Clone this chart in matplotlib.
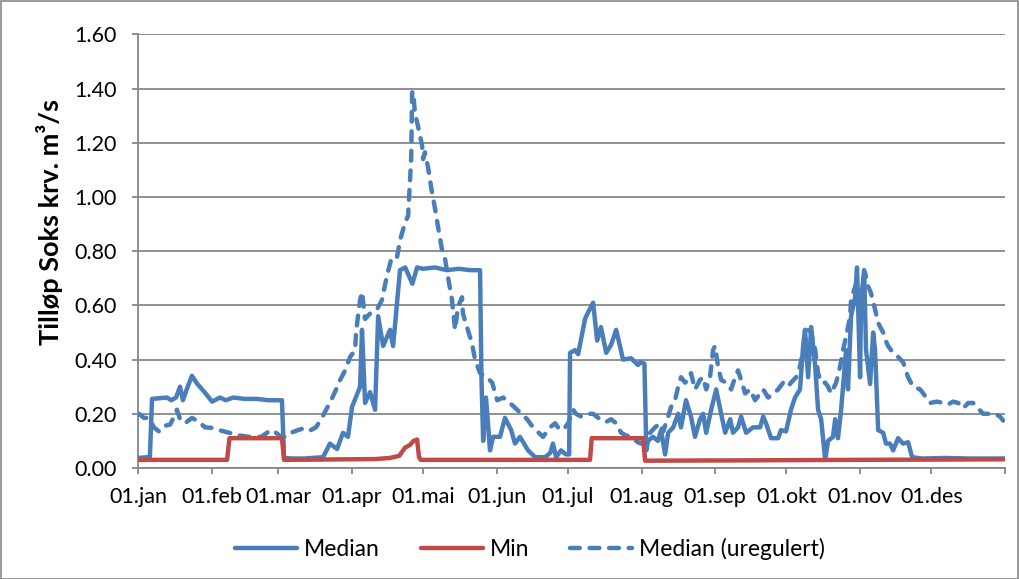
import matplotlib
matplotlib.use("Agg")
import matplotlib.pyplot as plt
from matplotlib.patches import Rectangle

# ---------------- data ----------------
month_ticks = [0, 31, 59, 90, 120, 151, 181, 212, 243, 273, 304, 334, 365]
month_labels = ["01.jan", "01.feb", "01.mar", "01.apr", "01.mai", "01.jun",
                "01.jul", "01.aug", "01.sep", "01.okt", "01.nov", "01.des", ""]
y_ticks = [0.0, 0.2, 0.4, 0.6, 0.8, 1.0, 1.2, 1.4, 1.6]

median_days = [0, 4.2, 5.0, 5.9, 12.2, 14, 16, 17.7, 18.9, 20.5, 22.7, 25, 28, 31.2, 34.5, 37, 40, 45, 50, 55,
               60.6, 61.5, 65, 70, 77.9, 80.8, 83.8, 86.3, 88.4, 90.1, 93.5, 94.3, 95.6, 97.7, 99.8, 101.1,
               103.2, 106.1, 107.4, 110.3, 112.5, 115.5, 117.5, 120, 125, 130, 135, 140, 144, 144.6, 145.3,
               146.5, 148.2, 149.5, 152.4, 154.5, 157.1, 158.7, 160.8, 164.2, 167.2, 171.4, 173.5, 174.7, 176,
               178.1, 180.2, 181.5, 181.9, 184, 185.3, 188.2, 189.5, 191.6, 193.3, 194.9, 197.1, 199.2, 201.3,
               204.2, 207.6, 210.5, 211.4, 213.2, 214.0, 214.7, 216.8, 218.9, 220.2, 221.9, 223.2, 225.3, 227.4,
               228.6, 230.7, 232.8, 234.5, 236.6, 237.9, 239.2, 241.3, 243.4, 245.5, 247.2, 249.3, 250.5, 252.6,
               253.9, 256, 258.9, 261.9, 263.2, 264.4, 266.5, 269.5, 270.7, 272.8, 274.9, 276.6, 278.7, 280,
               280.8, 282.1, 283.4, 285.1, 286.3, 287.6, 289.3, 290.5, 292.6, 293.5, 294.7, 296, 298.1, 298.9,
               300.2, 301.9, 302.7, 304, 304.4, 305.7, 306.5, 308.2, 309.5, 310.3, 311.6, 313.7, 314.9, 316.6,
               317.9, 320, 322.1, 324.2, 325.9, 330, 340, 350, 360, 365]
median_vals = [0.037, 0.04, 0.04, 0.255, 0.26, 0.25, 0.26, 0.30, 0.25, 0.29, 0.34, 0.31, 0.28, 0.245, 0.26, 0.25,
               0.26, 0.255, 0.255, 0.25, 0.25, 0.037, 0.035, 0.035, 0.04, 0.09, 0.07, 0.13, 0.115, 0.225, 0.30,
               0.51, 0.24, 0.28, 0.215, 0.56, 0.45, 0.51, 0.45, 0.73, 0.74, 0.68, 0.74, 0.735, 0.74, 0.73, 0.735,
               0.73, 0.73, 0.33, 0.10, 0.26, 0.065, 0.115, 0.115, 0.185, 0.14, 0.09, 0.115, 0.065, 0.04, 0.04,
               0.055, 0.09, 0.04, 0.065, 0.05, 0.05, 0.425, 0.435, 0.42, 0.55, 0.575, 0.61, 0.47, 0.52, 0.425,
               0.455, 0.51, 0.40, 0.405, 0.38, 0.39, 0.385, 0.065, 0.10, 0.115, 0.10, 0.14, 0.05, 0.13, 0.15, 0.20,
               0.15, 0.25, 0.19, 0.115, 0.18, 0.20, 0.13, 0.215, 0.29, 0.20, 0.13, 0.18, 0.13, 0.15, 0.19, 0.13,
               0.15, 0.15, 0.19, 0.165, 0.11, 0.11, 0.14, 0.135, 0.215, 0.26, 0.29, 0.45, 0.51, 0.335, 0.52, 0.375,
               0.215, 0.18, 0.03, 0.10, 0.115, 0.18, 0.11, 0.215, 0.435, 0.29, 0.56, 0.63, 0.74, 0.335, 0.62, 0.73,
               0.435, 0.31, 0.50, 0.435, 0.14, 0.13, 0.09, 0.09, 0.065, 0.11, 0.09, 0.095, 0.04, 0.035, 0.037,
               0.035, 0.035, 0.035]

min_days = [0, 37.5, 38.5, 60.6, 61.5, 100, 106, 110, 112.4, 114.5, 116, 117.5, 118.3, 119, 150, 190.3, 191,
            212.6, 213.5, 250, 300, 365]
min_vals = [0.03, 0.03, 0.11, 0.11, 0.03, 0.033, 0.037, 0.045, 0.075, 0.085, 0.10, 0.105, 0.04, 0.03, 0.03,
            0.03, 0.11, 0.11, 0.027, 0.028, 0.03, 0.032]

ureg_days = [0, 0.4, 2.5, 4.6, 6.7, 8.8, 10.9, 13.5, 15.2, 16.4, 17.7, 19.8, 22.7, 25.7, 28.2, 31.2, 34.1, 38.3,
             42.5, 46.7, 51.8, 56, 58.1, 60.2, 62.3, 64.4, 67.4, 70.3, 72.8, 74.9, 77.1, 79.2, 81.3, 83.4, 85.1,
             87.2, 89.3, 91.4, 91.8, 92.6, 93.5, 94.3, 95.6, 97.7, 100.6, 102.7, 104.8, 106.9, 109.1, 110.3,
             112.4, 113.7, 115.0, 115.4, 115.8, 116.6, 117.9, 119.6, 120, 120.8, 122.1, 123.8, 125.1, 126.3, 128,
             129.3, 130.5, 132.2, 133.5, 134.7, 136.4, 136.8, 138.5, 140.6, 141.9, 144, 146.9, 149.1, 151.2,
             153.7, 156.6, 159.6, 163.8, 166.3, 170.5, 172.6, 173.5, 175.6, 176.8, 178.9, 181.1, 183.2, 184.4,
             186.5, 189.5, 191.6, 194.5, 197.1, 199.2, 201.3, 203.4, 205.5, 207.6, 209.7, 210.5, 211.8, 215.6,
             217.7, 219.8, 221.1, 223.2, 224.4, 226.1, 227.4, 228.6, 230.3, 231.6, 232.8, 234.5, 236.6, 237.9,
             239.2, 240.8, 242.1, 242.9, 244.2, 245.5, 247.6, 249.7, 251.4, 252.6, 253.9, 255.6, 257.7, 259.8,
             261.9, 263.2, 265.3, 267.4, 269.5, 271.6, 273.7, 274.9, 277.1, 278.7, 280, 281.3, 282.1, 283.4,
             285.1, 286.3, 287.6, 289.3, 290.5, 291.8, 293.9, 295.6, 296.8, 298.1, 299.8, 300.2, 302.3, 304.4,
             306.1, 307.4, 308.6, 310.3, 311.6, 313.7, 314.5, 315.8, 317.9, 320, 322.1, 324.2, 326.3, 329.3,
             331.4, 333.5, 336.4, 338.9, 341.1, 343.2, 345.3, 347.4, 349.5, 351.6, 353.7, 355.8, 357.9, 360.8,
             362.9, 364.2]
ureg_vals = [0.20, 0.20, 0.185, 0.185, 0.15, 0.135, 0.155, 0.16, 0.19, 0.215, 0.18, 0.165, 0.185, 0.17, 0.15,
             0.148, 0.14, 0.13, 0.12, 0.115, 0.115, 0.14, 0.13, 0.115, 0.115, 0.13, 0.14, 0.148, 0.14, 0.15, 0.18,
             0.215, 0.25, 0.29, 0.325, 0.36, 0.41, 0.435, 0.50, 0.56, 0.62, 0.65, 0.55, 0.57, 0.585, 0.62, 0.71,
             0.78, 0.78, 0.84, 0.905, 0.93, 1.14, 1.385, 1.39, 1.31, 1.26, 1.19, 1.14, 1.165, 1.11, 1.015, 0.955,
             0.89, 0.805, 0.77, 0.705, 0.62, 0.51, 0.595, 0.63, 0.57, 0.52, 0.46, 0.40, 0.35, 0.335, 0.315, 0.25,
             0.26, 0.24, 0.215, 0.18, 0.15, 0.115, 0.14, 0.15, 0.165, 0.15, 0.14, 0.165, 0.215, 0.20, 0.19, 0.20,
             0.20, 0.18, 0.17, 0.18, 0.165, 0.13, 0.12, 0.115, 0.10, 0.095, 0.09, 0.13, 0.15, 0.165, 0.135, 0.19,
             0.225, 0.25, 0.30, 0.335, 0.315, 0.325, 0.35, 0.29, 0.325, 0.335, 0.29, 0.335, 0.435, 0.45, 0.375,
             0.325, 0.315, 0.29, 0.335, 0.36, 0.325, 0.275, 0.29, 0.25, 0.275, 0.29, 0.26, 0.275, 0.29, 0.315,
             0.30, 0.315, 0.335, 0.375, 0.435, 0.485, 0.51, 0.50, 0.435, 0.35, 0.315, 0.315, 0.30, 0.275, 0.315,
             0.375, 0.435, 0.485, 0.56, 0.62, 0.68, 0.68, 0.72, 0.67, 0.645, 0.585, 0.535, 0.50, 0.475, 0.45,
             0.425, 0.41, 0.39, 0.335, 0.30, 0.29, 0.265, 0.24, 0.245, 0.24, 0.235, 0.245, 0.24, 0.22, 0.24,
             0.24, 0.22, 0.20, 0.20, 0.20, 0.19, 0.175]

# ---------------- style ----------------
BLUE = "#4A7EBB"
RED = "#BE4B48"
GRID = "#878787"
FONT = ["Lato", "DejaVu Sans"]
plt.rcParams["font.family"] = FONT
LW = 3.2

fig = plt.figure(figsize=(10.19, 5.79), dpi=100)
ax = fig.add_axes([138 / 1019, 1 - 468 / 579, (1005 - 138) / 1019, (468 - 34.4) / 579])

ax.plot(median_days, median_vals, color=BLUE, lw=LW, solid_joinstyle="round",
        solid_capstyle="round", label="Median", zorder=3)
ax.plot(min_days, min_vals, color=RED, lw=LW, solid_joinstyle="round",
        solid_capstyle="round", label="Min", zorder=4)
ax.plot(ureg_days, ureg_vals, color=BLUE, lw=LW, linestyle=(0, (2.2, 2.2)),
        dash_capstyle="round", dash_joinstyle="round", label="Median (uregulert)", zorder=3)

ax.set_xlim(0, 365)
ax.set_ylim(0, 1.6)
ax.set_yticks(y_ticks)
ax.set_yticklabels([f"{v:.2f}" for v in y_ticks])
ax.set_xticks(month_ticks)
ax.set_xticklabels(month_labels)
ax.grid(axis="y", color=GRID, lw=1.3)
ax.set_axisbelow(True)
for s in ["top", "right"]:
    ax.spines[s].set_visible(False)
for s in ["left", "bottom"]:
    ax.spines[s].set_color(GRID)
    ax.spines[s].set_linewidth(1.3)
ax.tick_params(axis="both", colors=GRID, labelcolor="black", labelsize=15.5, length=4.5, width=1.3)
ax.tick_params(axis="y", pad=11)
ax.tick_params(axis="x", pad=9)

ax.set_ylabel("Tilløp Soks krv. m³/s", fontsize=19.5, fontweight="bold")
ax.yaxis.set_label_coords(-0.087, (468 - 222) / (468 - 34.4))

handles, labels = ax.get_legend_handles_labels()
fig.legend(handles, labels, loc="center", bbox_to_anchor=(530 / 1019, 1 - 549 / 579), ncol=3,
           frameon=False, fontsize=16.5, handlelength=2.7, handletextpad=0.3, columnspacing=1.8)

fig.patches.append(Rectangle((0.5 / 1019, 0.5 / 579), 1 - 1.5 / 1019, 1 - 1.5 / 579,
                             transform=fig.transFigure, fill=False, edgecolor=GRID, lw=1.2))

fig.savefig("out.png", dpi=100)
